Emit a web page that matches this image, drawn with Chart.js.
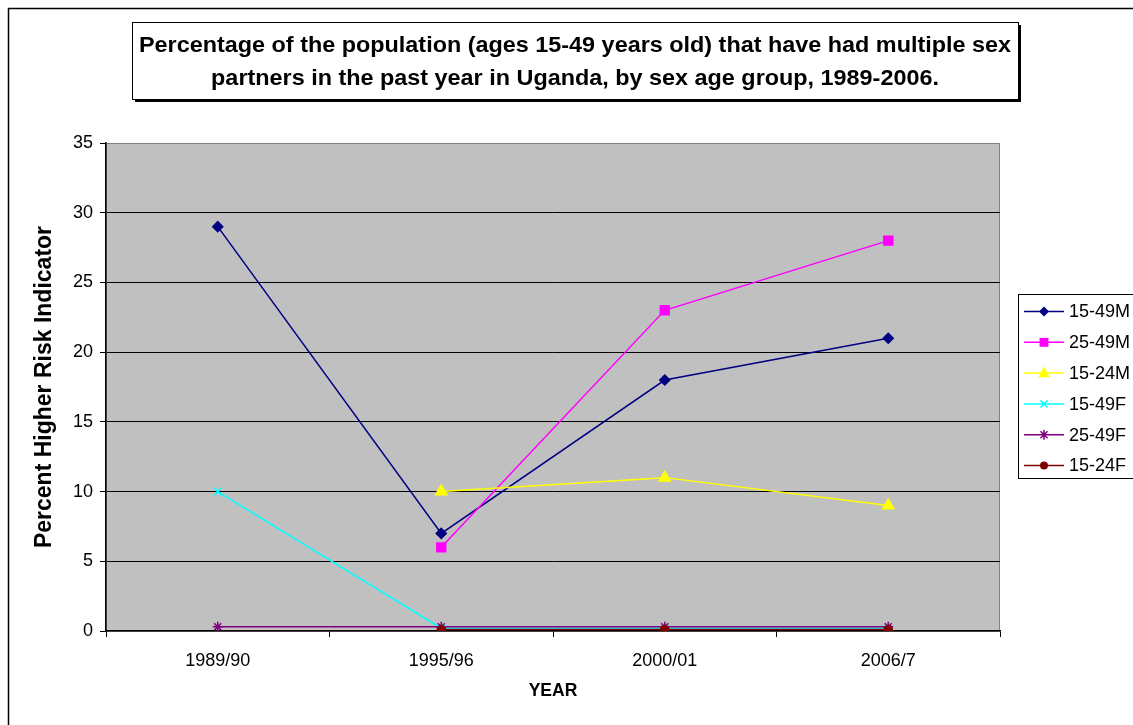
<!DOCTYPE html>
<html>
<head>
<meta charset="utf-8">
<script src="https://cdn.jsdelivr.net/npm/chart.js@4/dist/chart.umd.min.js"></script>
<style>
  html, body { margin: 0; padding: 0; background: #fff; }
  #wrap { width: 1133px; height: 725px; position: relative; }
</style>
</head>
<body>
<div id="wrap"><canvas id="c" width="1133" height="725"></canvas></div>
<script>
// Survey rounds
const years = ['1989/90', '1995/96', '2000/01', '2006/7'];

// Percent with multiple partners in the past year, by sex and age group
const m15_49 = [29, 7, 18, 21];
const m25_49 = [null, 6, 23, 28];
const m15_24 = [null, 10, 11, 9];
const f15_49 = [10, 0.2, 0.2, 0.2];
const f25_49 = [0.3, 0.3, 0.3, 0.3];
const f15_24 = [null, 0.1, 0.1, 0.1];

const seriesNames = ['15-49M', '25-49M', '15-24M', '15-49F', '25-49F', '15-24F'];
const yTicks = [0, 5, 10, 15, 20, 25, 30, 35];

const titleLines = [
  'Percentage of the population (ages 15-49 years old) that have had multiple sex',
  'partners in the past year in Uganda, by sex age group, 1989-2006.'
];
const yTitle = 'Percent Higher Risk Indicator';
const xTitle = 'YEAR';

const FONT = 'Arial, "Liberation Sans", Helvetica, sans-serif';

const styles = [
  { color: '#000080', point: 'rectRot', radius: 5 },
  { color: '#FF00FF', point: 'rect', radius: 6.3 },
  { color: '#FFFF00', point: 'triangle', radius: 6.5 },
  { color: '#00FFFF', point: 'crossRot', radius: 5 },
  { color: '#800080', point: 'star', radius: 5 },
  { color: '#800000', point: 'circle', radius: 4 }
];
const seriesData = [m15_49, m25_49, m15_24, f15_49, f25_49, f15_24];

const datasets = seriesData.map((d, i) => ({
  label: seriesNames[i],
  data: d,
  borderColor: styles[i].color,
  backgroundColor: styles[i].color,
  pointBackgroundColor: styles[i].color,
  pointBorderColor: styles[i].color,
  pointStyle: styles[i].point,
  pointRadius: styles[i].radius,
  pointHoverRadius: styles[i].radius,
  pointBorderWidth: 1.5,
  borderWidth: 1.5,
  tension: 0,
  spanGaps: false,
  order: seriesData.length - i
}));

// Simple marker painter for the legend
function drawMarker(ctx, style, color, r, x, y) {
  ctx.save();
  ctx.fillStyle = color;
  ctx.strokeStyle = color;
  ctx.lineWidth = 1.5;
  ctx.beginPath();
  switch (style) {
    case 'rectRot':
      ctx.moveTo(x, y - r); ctx.lineTo(x + r, y); ctx.lineTo(x, y + r); ctx.lineTo(x - r, y);
      ctx.closePath(); ctx.fill(); break;
    case 'rect': {
      const s = r * Math.SQRT1_2;
      ctx.rect(x - s, y - s, 2 * s, 2 * s); ctx.fill(); break;
    }
    case 'triangle': {
      ctx.moveTo(x, y - r); ctx.lineTo(x + r * 0.866, y + r * 0.5 + 1); ctx.lineTo(x - r * 0.866, y + r * 0.5 + 1);
      ctx.closePath(); ctx.fill(); break;
    }
    case 'crossRot': {
      const s = r * Math.SQRT1_2;
      ctx.moveTo(x - s, y - s); ctx.lineTo(x + s, y + s);
      ctx.moveTo(x + s, y - s); ctx.lineTo(x - s, y + s);
      ctx.stroke(); break;
    }
    case 'star': {
      const s = r * Math.SQRT1_2;
      ctx.moveTo(x - s, y - s); ctx.lineTo(x + s, y + s);
      ctx.moveTo(x + s, y - s); ctx.lineTo(x - s, y + s);
      ctx.moveTo(x, y - r); ctx.lineTo(x, y + r);
      ctx.stroke(); break;
    }
    default:
      ctx.arc(x, y, r, 0, Math.PI * 2); ctx.fill();
  }
  ctx.restore();
}

const decorations = {
  id: 'decorations',
  beforeDraw(chart) {
    const { ctx, chartArea: a } = chart;
    ctx.save();
    ctx.fillStyle = '#fff';
    ctx.fillRect(0, 0, chart.width, chart.height);
    // outer frame
    ctx.strokeStyle = '#000';
    ctx.lineWidth = 1.5;
    ctx.strokeRect(8.5, 8.5, chart.width + 20, chart.height + 20);
    // plot area
    ctx.fillStyle = '#C0C0C0';
    ctx.fillRect(a.left, a.top, a.right - a.left, a.bottom - a.top);
    ctx.strokeStyle = '#808080';
    ctx.lineWidth = 1;
    ctx.strokeRect(a.left + 0.5, a.top + 0.5, a.right - a.left - 1, a.bottom - a.top);
    ctx.restore();
  },
  afterDraw(chart) {
    const { ctx } = chart;
    ctx.save();
    // title box with shadow
    const bx = 132, by = 22, bw = 886, bh = 77;
    ctx.fillStyle = '#000';
    ctx.fillRect(bx + 3, by + 3, bw, bh);
    ctx.fillStyle = '#fff';
    ctx.fillRect(bx, by, bw, bh);
    ctx.strokeStyle = '#000';
    ctx.lineWidth = 1;
    ctx.strokeRect(bx + 0.5, by + 0.5, bw, bh);
    ctx.fillStyle = '#000';
    ctx.font = 'bold 22px ' + FONT;
    ctx.textAlign = 'center';
    ctx.textBaseline = 'middle';
    const w0 = ctx.measureText(titleLines[0]).width;
    const sx = 872 / w0;
    const cx = bx + bw / 2;
    [46, 79].forEach((ty, i) => {
      ctx.save();
      ctx.translate(cx, ty);
      ctx.scale(sx, 1);
      ctx.fillText(titleLines[i], 0, 0);
      ctx.restore();
    });

    // legend
    const lx = 1018, ly = 294, lh = 184;
    ctx.fillStyle = '#fff';
    ctx.fillRect(lx, ly, 200, lh);
    ctx.strokeStyle = '#000';
    ctx.lineWidth = 1;
    ctx.strokeRect(lx + 0.5, ly + 0.5, 200, lh);
    ctx.font = '18px ' + FONT;
    ctx.textAlign = 'left';
    ctx.textBaseline = 'middle';
    chart.data.datasets.forEach((ds, i) => {
      const y = 311.5 + i * 30.8;
      ctx.strokeStyle = ds.borderColor;
      ctx.lineWidth = 1.5;
      ctx.beginPath();
      ctx.moveTo(1024, y);
      ctx.lineTo(1064, y);
      ctx.stroke();
      drawMarker(ctx, ds.pointStyle, ds.borderColor, ds.pointRadius, 1044, y);
      ctx.fillStyle = '#000';
      ctx.fillText(ds.label, 1069, y + 1);
    });
    ctx.restore();
  }
};

new Chart(document.getElementById('c'), {
  type: 'line',
  data: { labels: years, datasets },
  options: {
    responsive: false,
    animation: false,
    events: [],
    layout: { padding: { left: 0, top: 143, right: 133, bottom: 0 } },
    plugins: {
      legend: { display: false },
      title: { display: false },
      tooltip: { enabled: false }
    },
    scales: {
      x: {
        offset: true,
        afterFit(scale) { scale.height = 94; },
        grid: {
          offset: true,
          drawOnChartArea: false,
          drawTicks: true,
          tickLength: 6,
          tickColor: '#000',
          tickWidth: 1
        },
        border: { color: '#000', width: 1.5 },
        ticks: { color: '#000', font: { family: FONT, size: 18 }, padding: 13, maxRotation: 0 },
        title: {
          display: true,
          text: xTitle,
          color: '#000',
          font: { family: FONT, size: 17.5, weight: 'bold' },
          padding: { top: 0, bottom: 23 }
        }
      },
      y: {
        min: 0,
        max: 35,
        afterFit(scale) { scale.width = 106; },
        afterBuildTicks(scale) { scale.ticks = yTicks.map(v => ({ value: v })); },
        grid: {
          color: ctx => (ctx.tick && (ctx.tick.value === 35 || ctx.tick.value === 0)) ? 'rgba(0,0,0,0)' : '#000',
          lineWidth: 1,
          tickLength: 6,
          tickColor: '#000'
        },
        border: { color: '#000', width: 1.5 },
        ticks: { color: '#000', font: { family: FONT, size: 18 }, padding: 7 },
        title: {
          display: true,
          text: yTitle,
          color: '#000',
          font: { family: FONT, size: 23, weight: 'bold' },
          padding: { top: 31, bottom: 0 }
        }
      }
    }
  },
  plugins: [decorations]
});
</script>
</body>
</html>
